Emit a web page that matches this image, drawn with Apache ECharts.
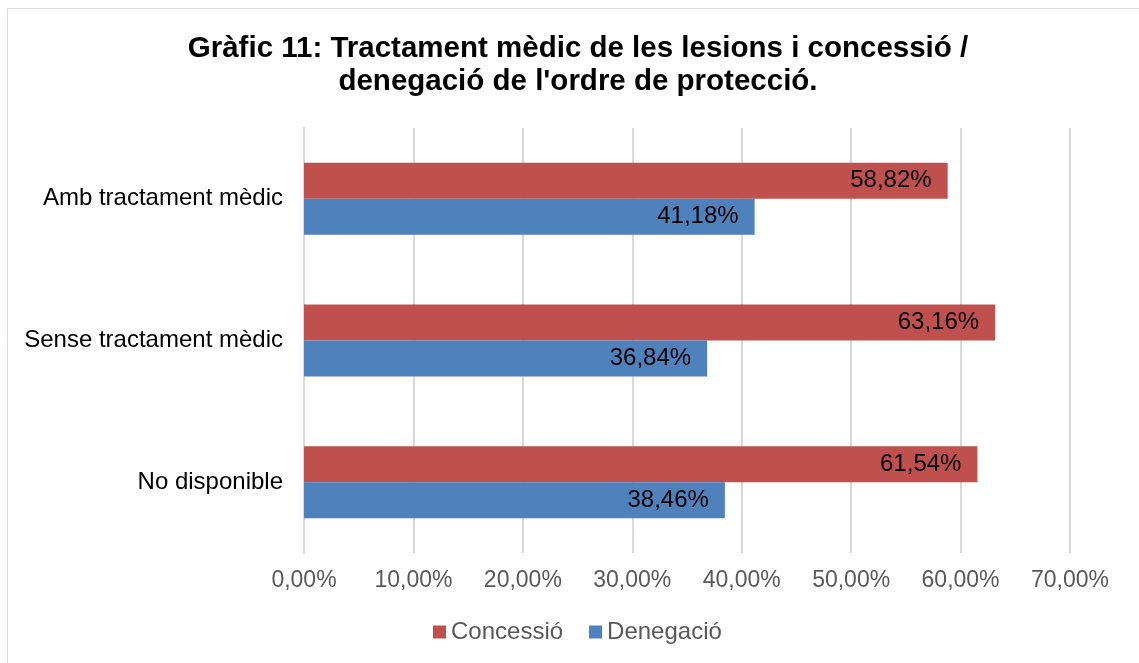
<!DOCTYPE html>
<html>
<head>
<meta charset="utf-8">
<script src="https://cdn.jsdelivr.net/npm/echarts@6/dist/echarts.min.js"></script>
<style>
  html, body { margin: 0; padding: 0; background: #fff; }
  #chart { width: 1139px; height: 663px; }
</style>
</head>
<body>
<div id="chart"></div>
<script>
var categories = ['Amb tractament mèdic', 'Sense tractament mèdic', 'No disponible'];
var concessio = [58.82, 63.16, 61.54];
var denegacio = [41.18, 36.84, 38.46];

var fmt = function (v) {
    return v.toFixed(2).replace('.', ',') + '%';
};

var myChart = echarts.init(document.getElementById('chart'));

var font = '"Liberation Sans", Arial, sans-serif';

var option = {
    backgroundColor: '#fff',
    textStyle: { fontFamily: font },
    title: {
        text: 'Gràfic 11: Tractament mèdic de les lesions i concessió /\ndenegació de l\'ordre de protecció.',
        left: 578,
        textAlign: 'center',
        top: 32,
        padding: 0,
        textStyle: {
            fontFamily: font,
            fontSize: 29.5,
            fontWeight: 'bold',
            color: '#000',
            lineHeight: 33
        }
    },
    graphic: [{
        type: 'rect',
        shape: { x: 7.5, y: 8.5, width: 1200, height: 700 },
        style: { fill: null, stroke: '#d9d9d9', lineWidth: 1 },
        silent: true
    }],
    legend: {
        top: 620,
        left: 433,
        padding: 0,
        itemWidth: 13,
        itemHeight: 13,
        itemGap: 26,
        icon: 'rect',
        textStyle: { fontFamily: font, fontSize: 24, color: '#595959' },
        data: ['Concessió', 'Denegació']
    },
    grid: {
        left: 304,
        right: 69,
        top: 128,
        bottom: 110,
        containLabel: false
    },
    xAxis: {
        type: 'value',
        min: 0,
        max: 70,
        interval: 10,
        axisLine: { show: false },
        axisTick: { show: false },
        axisLabel: {
            formatter: fmt,
            fontFamily: font,
            fontSize: 23,
            color: '#595959',
            margin: 16
        },
        splitLine: { lineStyle: { color: '#d9d9d9', width: 2 } }
    },
    yAxis: {
        type: 'category',
        inverse: true,
        data: categories,
        axisLine: { lineStyle: { color: '#d9d9d9', width: 2 } },
        axisTick: { show: false },
        axisLabel: {
            fontFamily: font,
            fontSize: 24,
            color: '#000',
            margin: 21
        }
    },
    series: [{
        name: 'Concessió',
        type: 'bar',
        data: concessio,
        barWidth: 36,
        barGap: '0%',
        itemStyle: { color: '#c0504d' },
        label: {
            show: true,
            position: 'insideRight',
            formatter: function (p) { return fmt(p.value); },
            fontFamily: font,
            fontSize: 24,
            color: '#000',
            distance: 16
        }
    }, {
        name: 'Denegació',
        type: 'bar',
        data: denegacio,
        barWidth: 36,
        barGap: '0%',
        itemStyle: { color: '#4f81bd' },
        label: {
            show: true,
            position: 'insideRight',
            formatter: function (p) { return fmt(p.value); },
            fontFamily: font,
            fontSize: 24,
            color: '#000',
            distance: 16
        }
    }]
};

myChart.setOption(option);
</script>
</body>
</html>
